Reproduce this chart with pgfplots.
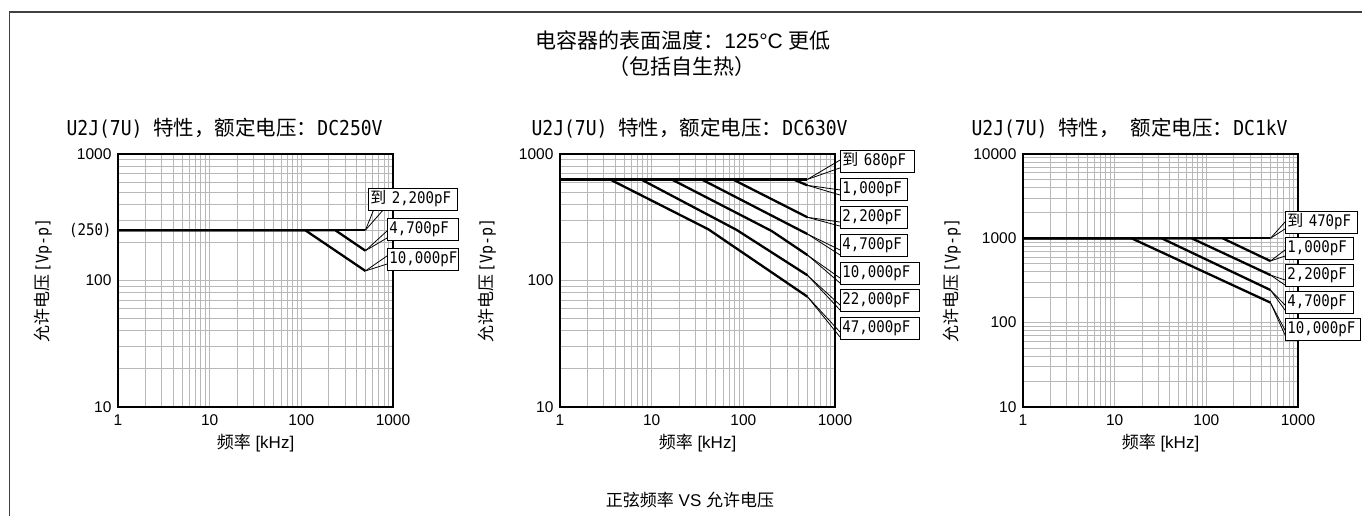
\documentclass[border=0pt]{standalone}
\usepackage{fontspec}
\setmainfont{Liberation Sans}
\newfontfamily\cjk{Noto Sans CJK SC}
\newfontfamily\mono[FakeStretch=0.88]{DejaVu Sans Mono}
\usepackage{pgfplots}
\pgfplotsset{compat=1.18}

\tikzset{
  mycallout/.style={draw=black, line width=0.9pt, fill=white, anchor=west,
    inner xsep=2pt, inner ysep=0pt, minimum height=22pt, align=left,
    font=\mono\fontsize{16}{18}\selectfont},
  ptr/.style={line width=0.8pt},
}
\newcommand{\tfont}{\fontsize{21}{24}\selectfont}
\newcommand{\pfont}{\fontsize{20.5}{23}\selectfont}
\newcommand{\lfont}{\fontsize{17}{20}\selectfont}
\newcommand{\ylab}{{\fontsize{17}{19}\selectfont\cjk 允许电压} {\mono\fontsize{17}{19}\selectfont [Vp-p]}}

\begin{document}
\begin{tikzpicture}[x=1pt,y=1pt]
\useasboundingbox (0,0) rectangle (1362,516);
\fill[white] (0,0) rectangle (1362,516);
\draw[line width=1.3pt, black!75] (9.5,0) -- (9.5,504) -- (1362,504);

% titles
\node at (683,476) {\tfont{\cjk 电容器的表面温度：}125°C {\cjk 更低}};
\node at (682,449) {\tfont\cjk （包括自生热）};
\node[anchor=west] at (63,388) {\pfont\mono U2J(7U) {\cjk 特性，额定电压：}DC250V};
\node[anchor=west] at (528,388) {\pfont\mono U2J(7U) {\cjk 特性，额定电压：}DC630V};
\node[anchor=west] at (968,388) {\pfont\mono U2J(7U) {\cjk 特性，} {\cjk 额定电压：}DC1kV};

% axis labels
\node[rotate=90] at (43,235.5) {\ylab};
\node[rotate=90] at (487,235.5) {\ylab};
\node[rotate=90] at (952,235.5) {\ylab};
\node at (255.5,73) {\lfont{\cjk 频率} [kHz]};
\node at (697.5,73) {\lfont{\cjk 频率} [kHz]};
\node at (1160.5,73) {\lfont{\cjk 频率} [kHz]};
\node at (690,16) {\lfont{\cjk 正弦频率} VS {\cjk 允许电压}};

% ---------- Panel 1: DC250V ----------
\begin{axis}[
  xmode=log, ymode=log, scale only axis, width=275pt, height=253pt,
  at={(118pt,109pt)}, anchor=south west, xmin=1, xmax=1000,
  xtick={1,10,100,1000}, xticklabels={1,10,100,1000},
  minor xtick={2,3,4,5,6,7,8,9,20,30,40,50,60,70,80,90,200,300,400,500,600,700,800,900},
  grid=both,
  major grid style={black!28, line width=0.9pt},
  minor grid style={black!28, line width=0.9pt},
  axis line style={line width=1.3pt},
  major tick length=0pt, minor tick length=0pt,
  ticklabel style={font=\fontsize{15.5}{18}\selectfont},
  xticklabel style={yshift=-4pt},
  yticklabel style={xshift=-3pt},
  clip=false,
  ymin=10, ymax=1000,
  ytick={10,100,250,1000},
  yticklabels={10,100,{\mono\fontsize{16}{18}\selectfont (250)},1000},
  minor ytick={20,30,40,50,60,70,80,90,200,300,400,500,600,700,800,900},
]
\addplot[black, line width=2.3pt] coordinates {(1,250) (500,250)};
\addplot[black, line width=2.3pt] coordinates {(1,250) (234,250) (500,172)};
\addplot[black, line width=2.3pt] coordinates {(1,250) (110,250) (500,119)};
\draw[ptr] (axis cs:500,250) -- (rel axis cs:0.9309,0.7826);
\draw[ptr] (axis cs:500,250) -- (rel axis cs:0.9673,0.7826);
\draw[ptr] (axis cs:500,172) -- (rel axis cs:0.9782,0.6957);
\draw[ptr] (axis cs:500,172) -- (rel axis cs:0.9782,0.668);
\draw[ptr] (axis cs:500,119) -- (rel axis cs:0.9782,0.597);
\draw[ptr] (axis cs:500,119) -- (rel axis cs:0.9782,0.565);
\node[mycallout, text width=85pt] at (rel axis cs:0.9091,0.8221) {{\cjk 到} 2,200pF};
\node[mycallout, text width=67pt] at (rel axis cs:0.9782,0.7036) {4,700pF};
\node[mycallout, text width=67pt] at (rel axis cs:0.9782,0.583) {10,000pF};
\end{axis}

% ---------- Panel 2: DC630V ----------
\begin{axis}[
  xmode=log, ymode=log, scale only axis, width=275pt, height=253pt,
  at={(560pt,109pt)}, anchor=south west, xmin=1, xmax=1000,
  xtick={1,10,100,1000}, xticklabels={1,10,100,1000},
  minor xtick={2,3,4,5,6,7,8,9,20,30,40,50,60,70,80,90,200,300,400,500,600,700,800,900},
  grid=both,
  major grid style={black!28, line width=0.9pt},
  minor grid style={black!28, line width=0.9pt},
  axis line style={line width=1.3pt},
  major tick length=0pt, minor tick length=0pt,
  ticklabel style={font=\fontsize{15.5}{18}\selectfont},
  xticklabel style={yshift=-4pt},
  yticklabel style={xshift=-3pt},
  clip=false,
  ymin=10, ymax=1000,
  ytick={10,100,1000}, yticklabels={10,100,1000},
  minor ytick={20,30,40,50,60,70,80,90,200,300,400,500,600,700,800,900},
]
\addplot[black, line width=2.3pt] coordinates {(1,630) (500,630)};
\addplot[black, line width=2.3pt] coordinates {(1,630) (351,630) (500,565)};
\addplot[black, line width=2.3pt] coordinates {(1,630) (76.6,630) (500,316)};
\addplot[black, line width=2.3pt] coordinates {(1,630) (35,630) (500,233)};
\addplot[black, line width=2.3pt] coordinates {(1,630) (16.5,630) (204,246) (500,159)};
\addplot[black, line width=2.3pt] coordinates {(1,630) (7.65,630) (84.6,251) (500,110)};
\addplot[black, line width=2.3pt] coordinates {(1,630) (3.5,630) (41.5,254) (500,74.5)};
\draw[ptr] (axis cs:500,630) -- (rel axis cs:1.0182,0.976);
\draw[ptr] (axis cs:500,630) -- (rel axis cs:1.0182,0.945);
\draw[ptr] (axis cs:500,565) -- (rel axis cs:1.0182,0.858);
\draw[ptr] (axis cs:500,565) -- (rel axis cs:1.0182,0.838);
\draw[ptr] (axis cs:500,316) -- (rel axis cs:1.0182,0.731);
\draw[ptr] (axis cs:500,316) -- (rel axis cs:1.0182,0.715);
\draw[ptr] (axis cs:500,233) -- (rel axis cs:1.0182,0.6206);
\draw[ptr] (axis cs:500,233) -- (rel axis cs:1.0182,0.6008);
\draw[ptr] (axis cs:500,159) -- (rel axis cs:1.0182,0.5099);
\draw[ptr] (axis cs:500,159) -- (rel axis cs:1.0182,0.4901);
\draw[ptr] (axis cs:500,110) -- (rel axis cs:1.0182,0.4032);
\draw[ptr] (axis cs:500,110) -- (rel axis cs:1.0182,0.3834);
\draw[ptr] (axis cs:500,74.5) -- (rel axis cs:1.0182,0.2964);
\draw[ptr] (axis cs:500,74.5) -- (rel axis cs:1.0182,0.2767);
\node[mycallout, text width=70pt] at (rel axis cs:1.0182,0.9723) {{\cjk 到} 680pF};
\node[mycallout, text width=63pt] at (rel axis cs:1.0182,0.8597) {1,000pF};
\node[mycallout, text width=63pt] at (rel axis cs:1.0182,0.751) {2,200pF};
\node[mycallout, text width=63pt] at (rel axis cs:1.0182,0.638) {4,700pF};
\node[mycallout, text width=75pt] at (rel axis cs:1.0182,0.5296) {10,000pF};
\node[mycallout, text width=75pt] at (rel axis cs:1.0182,0.421) {22,000pF};
\node[mycallout, text width=75pt] at (rel axis cs:1.0182,0.3123) {47,000pF};
\end{axis}

% ---------- Panel 3: DC1kV ----------
\begin{axis}[
  xmode=log, ymode=log, scale only axis, width=275pt, height=253pt,
  at={(1023pt,109pt)}, anchor=south west, xmin=1, xmax=1000,
  xtick={1,10,100,1000}, xticklabels={1,10,100,1000},
  minor xtick={2,3,4,5,6,7,8,9,20,30,40,50,60,70,80,90,200,300,400,500,600,700,800,900},
  grid=both,
  major grid style={black!28, line width=0.9pt},
  minor grid style={black!28, line width=0.9pt},
  axis line style={line width=1.3pt},
  major tick length=0pt, minor tick length=0pt,
  ticklabel style={font=\fontsize{15.5}{18}\selectfont},
  xticklabel style={yshift=-4pt},
  yticklabel style={xshift=-3pt},
  clip=false,
  ymin=10, ymax=10000,
  ytick={10,100,1000,10000}, yticklabels={10,100,1000,10000},
  minor ytick={20,30,40,50,60,70,80,90,200,300,400,500,600,700,800,900,2000,3000,4000,5000,6000,7000,8000,9000},
]
\addplot[black, line width=2.3pt] coordinates {(1,1000) (500,1000)};
\addplot[black, line width=2.3pt] coordinates {(1,1000) (150.7,1000) (500,538)};
\addplot[black, line width=2.3pt] coordinates {(1,1000) (69.2,1000) (500,367)};
\addplot[black, line width=2.3pt] coordinates {(1,1000) (32.6,1000) (500,244)};
\addplot[black, line width=2.3pt] coordinates {(1,1000) (15.3,1000) (500,173)};
\draw[ptr] (axis cs:500,1000) -- (rel axis cs:0.9527,0.7312);
\draw[ptr] (axis cs:500,1000) -- (rel axis cs:0.9527,0.7036);
\draw[ptr] (axis cs:500,538) -- (rel axis cs:0.9527,0.6206);
\draw[ptr] (axis cs:500,538) -- (rel axis cs:0.9527,0.5968);
\draw[ptr] (axis cs:500,367) -- (rel axis cs:0.9527,0.502);
\draw[ptr] (axis cs:500,367) -- (rel axis cs:0.9527,0.482);
\draw[ptr] (axis cs:500,244) -- (rel axis cs:0.9527,0.403);
\draw[ptr] (axis cs:500,244) -- (rel axis cs:0.9527,0.383);
\draw[ptr] (axis cs:500,173) -- (rel axis cs:0.9527,0.304);
\draw[ptr] (axis cs:500,173) -- (rel axis cs:0.9527,0.285);
\node[mycallout, text width=68pt] at (rel axis cs:0.9527,0.7312) {{\cjk 到} 470pF};
\node[mycallout, text width=64pt] at (rel axis cs:0.9527,0.6285) {1,000pF};
\node[mycallout, text width=64pt] at (rel axis cs:0.9527,0.5198) {2,200pF};
\node[mycallout, text width=64pt] at (rel axis cs:0.9527,0.415) {4,700pF};
\node[mycallout, text width=71pt] at (rel axis cs:0.9527,0.3063) {10,000pF};
\end{axis}
\end{tikzpicture}
\end{document}
